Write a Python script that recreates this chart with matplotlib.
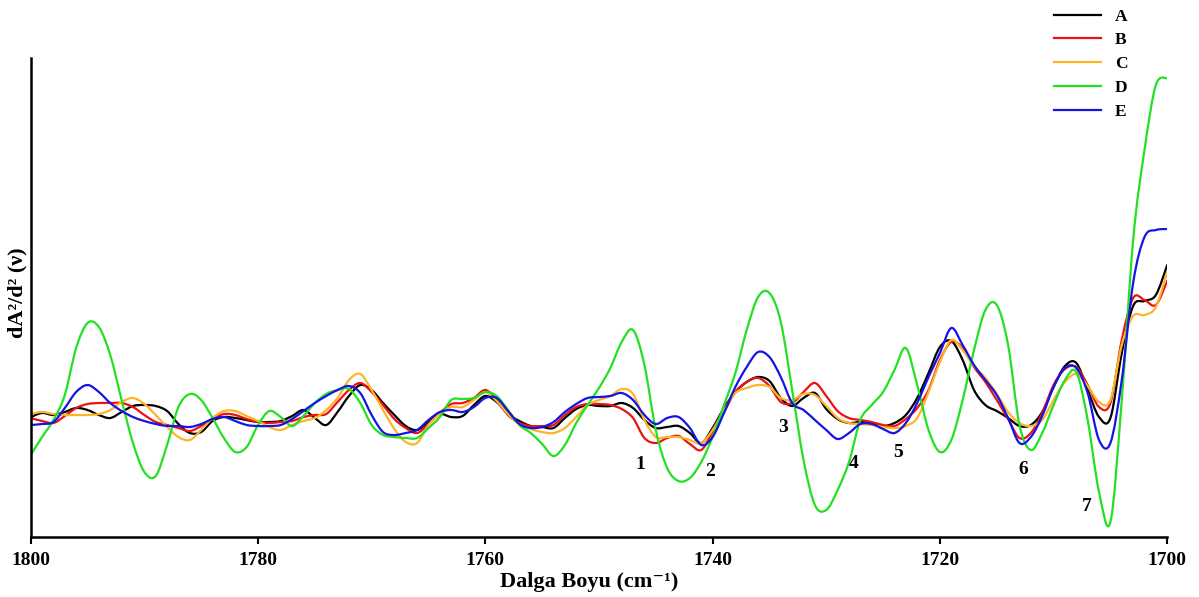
import numpy as np
import matplotlib
matplotlib.use("Agg")
import matplotlib.pyplot as plt
from matplotlib.path import Path
from matplotlib.patches import PathPatch
from matplotlib.lines import Line2D

# wavenumber grid, 1800 -> 1700 cm-1 in 1 cm-1 steps
wavenumber = np.arange(1800, 1699, -1)

# second derivative spectra (arbitrary units)
ypix_a = [417, 413, 415, 412, 408, 410, 415, 418, 412, 406,
          405, 406, 411, 424, 433, 432, 421, 417, 418, 420,
          422, 422, 421, 416, 410, 418, 425, 412, 396, 385,
          390, 403, 415, 426, 430, 422, 414, 417, 416, 405,
          396, 402, 414, 421, 426, 427, 428, 418, 409, 405,
          406, 406, 403, 408, 420, 428, 427, 426, 433, 443,
          428, 408, 392, 382, 377, 381, 398, 406, 398, 393,
          409, 419, 423, 422, 423, 426, 423, 415, 398, 373,
          347, 341, 360, 390, 405, 411, 418, 426, 425, 412,
          387, 366, 363, 390, 417, 418, 353, 306, 301, 295,
          265]
ypix_b = [418, 421, 423, 416, 408, 404, 403, 403, 403, 407,
          415, 422, 425, 428, 431, 426, 419, 414, 415, 419,
          422, 423, 422, 421, 417, 415, 414, 402, 390, 383,
          392, 405, 419, 428, 433, 424, 413, 404, 403, 398,
          390, 400, 415, 423, 426, 426, 425, 415, 407, 404,
          404, 405, 409, 418, 438, 443, 438, 436, 444, 450,
          432, 412, 392, 382, 378, 386, 402, 403, 392, 383,
          396, 411, 418, 420, 422, 425, 426, 419, 408, 390,
          360, 342, 348, 367, 382, 400, 419, 438, 433, 413,
          385, 369, 367, 385, 407, 403, 340, 298, 300, 305,
          281]
ypix_c = [414, 412, 414, 415, 415, 415, 414, 410, 402, 398,
          404, 415, 427, 437, 440, 430, 418, 411, 411, 416,
          421, 427, 430, 425, 421, 418, 410, 398, 380, 374,
          390, 410, 429, 442, 443, 425, 414, 407, 407, 400,
          392, 401, 414, 424, 429, 432, 433, 428, 417, 405,
          400, 396, 389, 394, 420, 437, 437, 437, 440, 443,
          430, 410, 393, 388, 385, 387, 398, 400, 394, 395,
          406, 418, 423, 424, 425, 427, 428, 426, 418, 392,
          362, 340, 350, 366, 378, 394, 412, 423, 426, 420,
          400, 382, 374, 386, 402, 400, 345, 316, 315, 307,
          272]
ypix_d = [455, 437, 420, 395, 348, 323, 327, 355, 400, 443,
          472, 476, 445, 407, 394, 400, 418, 438, 452, 447,
          425, 411, 417, 426, 416, 403, 394, 390, 389, 403,
          425, 435, 437, 438, 438, 428, 417, 400, 399, 398,
          392, 396, 410, 425, 433, 444, 456, 445, 423, 405,
          388, 368, 342, 330, 365, 430, 468, 481, 478, 462,
          437, 405, 373, 330, 297, 293, 322, 390, 460, 505,
          510, 490, 462, 420, 405, 392, 370, 348, 385, 430,
          452, 440, 400, 350, 310, 305, 345, 425, 450, 433,
          405, 380, 372, 420, 492, 522, 400, 240, 150, 85,
          78]
ypix_e = [425, 424, 422, 408, 392, 385, 392, 403, 411, 417,
          421, 424, 426, 426, 427, 424, 419, 417, 421, 425,
          426, 426, 425, 419, 411, 403, 396, 390, 386, 393,
          415, 432, 435, 433, 430, 420, 412, 410, 412, 407,
          398, 398, 411, 424, 428, 427, 422, 412, 404, 398,
          397, 396, 393, 400, 415, 424, 418, 417, 428, 445,
          437, 413, 387, 367, 352, 357, 377, 403, 410, 420,
          430, 439, 433, 424, 424, 429, 433, 423, 403, 377,
          353, 328, 345, 365, 380, 395, 418, 443, 437, 416,
          387, 368, 368, 393, 440, 443, 380, 283, 237, 230,
          229]

series_names = ["A", "B", "C", "D", "E"]
series_colors = ["#000000", "#ee1111", "#ffb428", "#22e022", "#1414e6"]
series_vals = [420 - np.array(v) for v in (ypix_a, ypix_b, ypix_c, ypix_d, ypix_e)]

# band labels: number, wavenumber, value
band_labels = ["1", "2", "3", "4", "5", "6", "7"]
band_x = [1746.4, 1740.2, 1733.8, 1727.6, 1723.7, 1712.7, 1707.1]
band_y = [-44, -51, -7, -43, -32, -49, -86]


def smooth_path(x, y):
    # Catmull-Rom style cubic Bezier through every sample
    pts = np.column_stack([x, y]).astype(float)
    ext = np.vstack([pts[0], pts, pts[-1]])
    verts = [pts[0]]
    codes = [Path.MOVETO]
    for i in range(len(pts) - 1):
        p0, p1, p2, p3 = ext[i], ext[i + 1], ext[i + 2], ext[i + 3]
        verts += [p1 + (p2 - p0) / 6.0, p2 - (p3 - p1) / 6.0, p2]
        codes += [Path.CURVE4] * 3
    return Path(verts, codes)


plt.rcParams['font.family'] = ['Liberation Serif', 'DejaVu Serif']
plt.rcParams['font.weight'] = 'bold'

fig = plt.figure(figsize=(11.99, 5.97), dpi=100)
ax = fig.add_axes([0.0256, 0.1005, 0.9479, 0.8023])

handles = []
for vals, name, col in zip(series_vals, series_names, series_colors):
    ax.add_patch(PathPatch(smooth_path(wavenumber, vals), fill=False,
                           edgecolor=col, lw=1.6, capstyle='round', joinstyle='round'))
    handles.append(Line2D([], [], color=col, lw=1.6, label=name))

for lab, bx, by in zip(band_labels, band_x, band_y):
    ax.text(bx, by, lab, fontsize=14, fontweight='bold', ha='center', va='center')

ax.set_xlim(1800, 1700)
ax.set_ylim(-117, 362)
ax.set_xticks([1800, 1780, 1760, 1740, 1720, 1700])
ax.set_yticks([])
ax.tick_params(axis='x', direction='out', length=5, width=1.5, labelsize=14, pad=6)
for t in ax.get_xticklabels():
    t.set_fontweight('bold')

ax.spines['top'].set_visible(False)
ax.spines['right'].set_visible(False)
ax.spines['left'].set_linewidth(1.8)
ax.spines['bottom'].set_linewidth(1.8)

ax.set_xlabel("Dalga Boyu (cm\u207b\u00b9)", fontsize=16, fontweight='bold', labelpad=2)
ax.xaxis.label.set_x(0.491)
ax.set_ylabel("dA\u00b2/d\u00b2 (\u03bd)", fontsize=16, fontweight='bold')
ax.yaxis.set_label_coords(-0.003, 0.51)

fig.legend(handles=handles, loc='upper left', bbox_to_anchor=(0.866, 1.012),
           frameon=False, handlelength=2.7, handletextpad=0.8,
           labelspacing=0.44, prop={'weight': 'bold', 'size': 12.5})

fig.savefig("out.png", dpi=100)
